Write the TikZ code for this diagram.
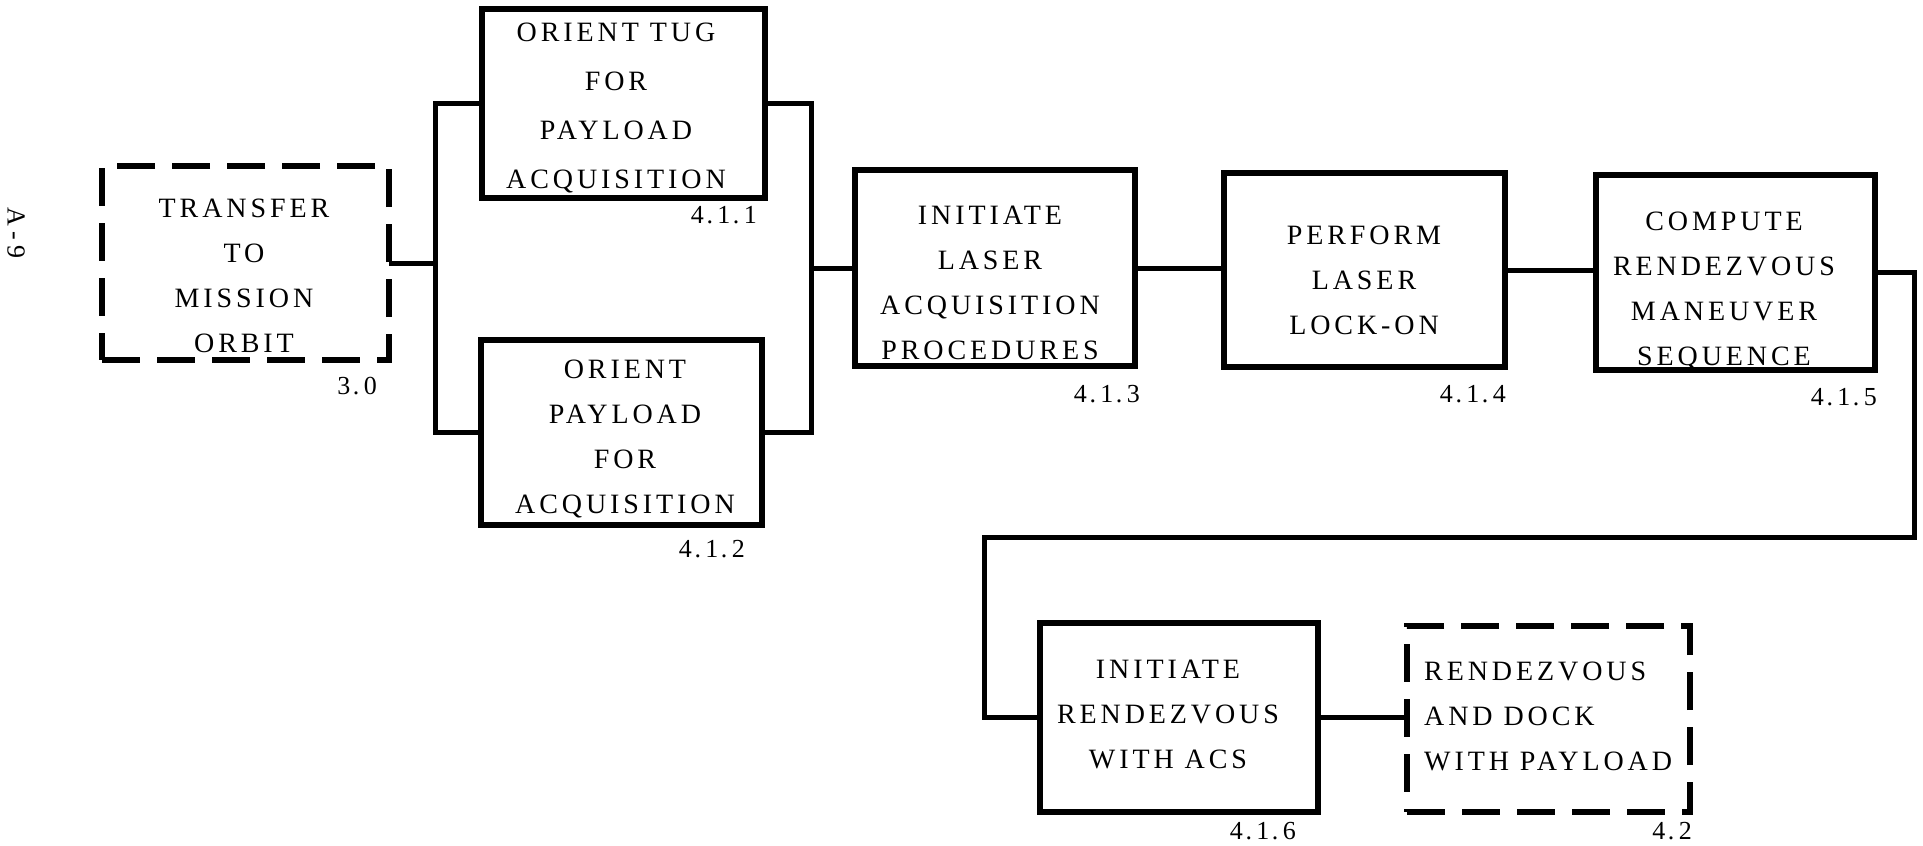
\documentclass[tikz,border=0pt]{standalone}
\usepackage{fontspec}
\newfontfamily\dfont{Liberation Serif}[LetterSpace=14]
\newfontfamily\nfont{Liberation Serif}[LetterSpace=10]
\newfontfamily\pfont{Liberation Serif}[LetterSpace=20]
\begin{document}
\begin{tikzpicture}[x=1pt,y=-1pt,
  box/.style={draw, line width=5.5pt, inner sep=0pt, outer sep=0pt},
  dbox/.style={box, dash pattern=on 38pt off 17pt},
  txt/.style={font=\dfont\fontsize{28}{45}\selectfont, align=center, inner sep=0pt},
  ltxt/.style={font=\dfont\fontsize{28}{45}\selectfont, align=left, inner sep=0pt, anchor=west},
  num/.style={font=\nfont\fontsize{26}{26}\selectfont, inner sep=0pt, anchor=east},
  wire/.style={line width=5pt}]
\useasboundingbox (0,0) rectangle (1923,846);

% boxes
\node[dbox, minimum width=287pt, minimum height=194pt] (b30)  at (245.5,263) {};
\node[box,  minimum width=283pt, minimum height=189pt] (b411) at (623.5,103.5) {};
\node[box,  minimum width=281pt, minimum height=185pt] (b412) at (621.5,432.5) {};
\node[box,  minimum width=280pt, minimum height=196pt] (b413) at (995,268) {};
\node[box,  minimum width=281pt, minimum height=194pt] (b414) at (1364.5,270) {};
\node[box,  minimum width=279pt, minimum height=195pt] (b415) at (1735.5,272.5) {};
\node[box,  minimum width=278pt, minimum height=189pt] (b416) at (1179,717.5) {};
\node[dbox, minimum width=283pt, minimum height=186pt] (b42)  at (1548.5,719) {};

% texts
\node[txt] (t30)  at (244,276) {TRANSFER\\TO\\MISSION\\ORBIT};
\node[txt, font=\dfont\fontsize{28}{49}\selectfont] (t411) at (616,108) {ORIENT TUG\\FOR\\PAYLOAD\\ACQUISITION};
\node[txt] (t412) at (625,439) {ORIENT\\PAYLOAD\\FOR\\ACQUISITION};
\node[txt] (t413) at (990,283) {INITIATE\\LASER\\ACQUISITION\\PROCEDURES};
\node[txt] (t414) at (1364,280) {PERFORM\\LASER\\LOCK-ON};
\node[txt] (t415) at (1724,291) {COMPUTE\\RENDEZVOUS\\MANEUVER\\SEQUENCE};
\node[txt] (t416) at (1168,714) {INITIATE\\RENDEZVOUS\\WITH ACS};
\node[ltxt] (t42) at (1424,716) {RENDEZVOUS\\AND DOCK\\WITH PAYLOAD};

% numbers
\node[num] (n30)  at (377,386) {3.\,0};
\node[num] (n411) at (757,215) {4.\,1.\,1};
\node[num] (n412) at (745,549) {4.\,1.\,2};
\node[num] (n413) at (1140,394) {4.\,1.\,3};
\node[num] (n414) at (1506,394) {4.\,1.\,4};
\node[num] (n415) at (1877,397) {4.\,1.\,5};
\node[num] (n416) at (1296,831) {4.\,1.\,6};
\node[num] (n42)  at (1692,831) {4.\,2};

% page number
\node[font=\pfont\fontsize{26}{26}\selectfont, rotate=-90, inner sep=0pt] (pg) at (16,233) {A-9};

% connectors
\coordinate (jl) at (435,263);
\coordinate (jr) at (811,268);
\coordinate (c1) at (1914,537);
\coordinate (c2) at (984,537);
\draw[wire] (b30.east) -- (jl);
\draw[wire] (b411.west) -| (jl) |- (b412.west);
\draw[wire] (b411.east) -| (jr) |- (b412.east);
\draw[wire] (jr) -- (b413.west);
\draw[wire] (b413.east) -- (b413.east -| b414.west);
\draw[wire] (b414.east) -- (b414.east -| b415.west);
\draw[wire] (b415.east) -| (c1) -- (c2) |- (b416.west);
\draw[wire] (b416.east) -- (b416.east -| b42.west);
\end{tikzpicture}
\end{document}
